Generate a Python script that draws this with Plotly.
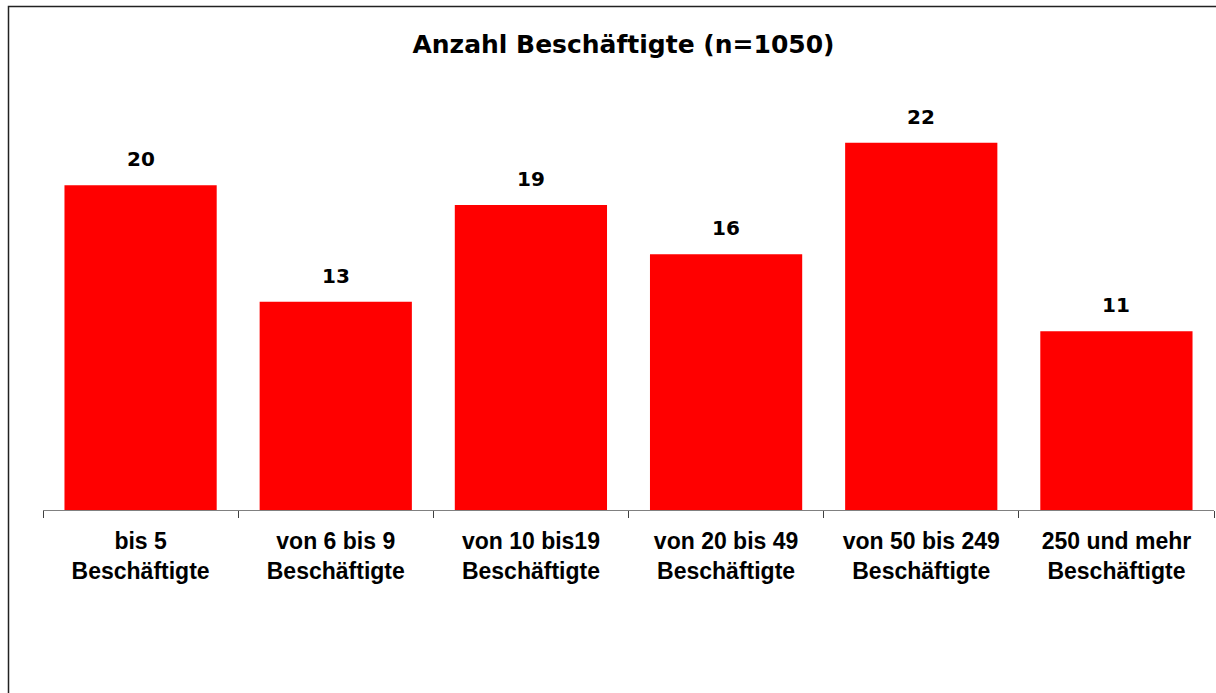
import plotly.graph_objects as go

categories = ["bis 5<br>Beschäftigte", "von 6 bis 9<br>Beschäftigte", "von 10 bis19<br>Beschäftigte",
              "von 20 bis 49<br>Beschäftigte", "von 50 bis 249<br>Beschäftigte", "250 und mehr<br>Beschäftigte"]
values = [19.8, 12.7, 18.6, 15.6, 22.4, 10.9]
labels = [f"{v:.0f}" for v in values]
title = "Anzahl Beschäftigte (n=1050)"

W, H = 1216, 693
L, R, T, B = 43, 2, 100, 183
FONT = "DejaVu Sans"
TICKFONT = "Liberation Sans, Arial"

fig = go.Figure()
fig.add_trace(go.Bar(x=categories, y=values, marker=dict(color="#ff0000", line=dict(width=0)),
                     width=0.78, hoverinfo="skip"))

for c, v, t in zip(categories, values, labels):
    fig.add_annotation(x=c, y=v, text=f"<b>{t}</b>", showarrow=False, yanchor="bottom",
                       yshift=12, font=dict(family=FONT, size=20, color="black"))

pw = W - L - R
ph = H - T - B
fig.add_shape(type="rect", xref="paper", yref="paper",
              x0=(8.5 - L) / pw, x1=(W + 20 - L) / pw,
              y0=(H - B - (H + 20)) / ph, y1=(H - B - 6.5) / ph,
              line=dict(color="#222222", width=1.5), fillcolor="rgba(0,0,0,0)", layer="above")

fig.update_layout(
    width=W, height=H,
    margin=dict(l=L, r=R, t=T, b=B),
    paper_bgcolor="white", plot_bgcolor="white",
    showlegend=False,
    bargap=0.22,
    title=dict(text=f"<b>{title}</b>", x=(623.5 - L) / pw, xref="paper", xanchor="center",
               y=1 - 44 / H, yanchor="middle",
               font=dict(family=FONT, size=25, color="black")),
    xaxis=dict(type="category", showline=True, linecolor="#808080", linewidth=1,
               ticks="outside", tickson="boundaries", ticklen=7, tickcolor="#404040", tickwidth=1,
               tickfont=dict(family=TICKFONT, size=23, color="black"),
               showgrid=False, zeroline=False, ticklabelstandoff=10),
    yaxis=dict(range=[0, 25], visible=False, showgrid=False, zeroline=False),
)
fig.update_xaxes(ticktext=[f"<b>{c}</b>" for c in categories], tickvals=categories)

fig.write_html("out.html", config={"displayModeBar": False},
               post_script="document.body.style.margin='0';")
